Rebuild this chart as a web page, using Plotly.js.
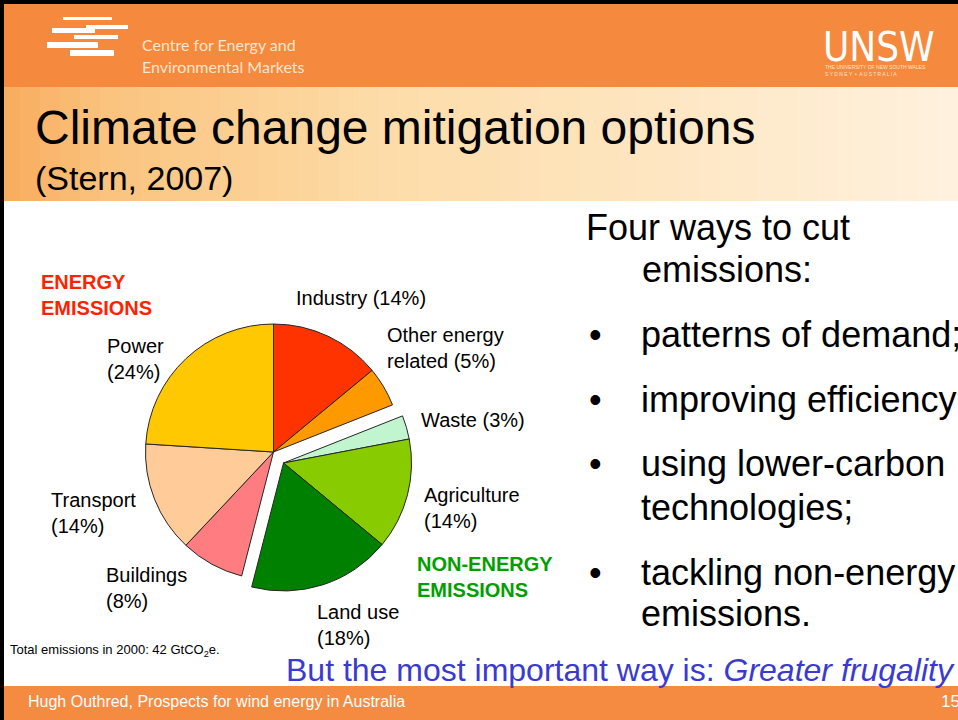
<!DOCTYPE html>
<html><head><meta charset="utf-8">
<script src="https://cdn.plot.ly/plotly-3.0.1.min.js"></script>
<style>html,body{margin:0;padding:0;background:#fff;}#chart{width:958px;height:720px;}</style>
</head><body><div id="chart"></div>
<script>
// ---- data ----
const sectors = ['Industry','Other energy related','Waste','Agriculture','Land use','Buildings','Transport','Power'];
const shares = [14, 5, 3, 14, 18, 8, 14, 24];
const group = ['energy','energy','non-energy','non-energy','non-energy','energy','energy','energy'];
const sliceColors = ['#FF3300','#FF9900','#C0F5D0','#88CC00','#008000','#FF7C80','#FFCC99','#FFC800'];
const labelNames = ['Industry','Other energy<br>related','Waste','Agriculture','Land use','Buildings','Transport','Power'];
const labelBreak = [' ', ' ', ' ', '<br>', '<br>', '<br>', '<br>', '<br>'];
const groupTitles = ['ENERGY<br>EMISSIONS', 'NON-ENERGY<br>EMISSIONS'];
const introLines = ['Four ways to cut', 'emissions:'];
const bulletItems = [['patterns of demand;'], ['improving efficiency;'], ['using lower-carbon','technologies;'], ['tackling non-energy','emissions.']];
const slideTitle = 'Climate change mitigation options';
const slideSubtitle = '(Stern, 2007)';
const totalNote = 'Total emissions in 2000: 42 GtCO<sub>2</sub>e.';
const punchline = 'But the most important way is: <i>Greater frugality</i>';
const footerText = 'Hugh Outhred, Prospects for wind energy in Australia';
const pageNumber = '15';

// ---- helpers ----
const W = 958, H = 720;
const X = p => p / W;
const Y = p => 1 - p / H;
const ann = [];
function txt(text, x, y, size, color, opts) {
  ann.push(Object.assign({text: text, x: X(x), y: Y(y), xref: 'paper', yref: 'paper',
    xanchor: 'left', yanchor: 'middle', align: 'left', showarrow: false,
    font: {family: 'Liberation Sans, Arial, sans-serif', size: size, color: color}}, opts || {}));
}
const shapes = [];
function rect(x0, y0, x1, y1, color) {
  shapes.push({type: 'rect', xref: 'paper', yref: 'paper', x0: X(x0), x1: X(x1), y0: Y(y1), y1: Y(y0),
    fillcolor: color, line: {width: 0}, layer: 'below'});
}

// background bands
rect(0, 0, W, 87, '#F5893D');
const stops = [[0, [248,172,92]], [0.12, [250,196,128]], [0.4, [253,220,168]], [1, [255,241,222]]];
function grad(t) {
  for (let i = 1; i < stops.length; i++) {
    if (t <= stops[i][0]) {
      const a = stops[i-1], b = stops[i], f = (t - a[0]) / (b[0] - a[0]);
      return 'rgb(' + a[1].map((v, k) => Math.round(v + (b[1][k] - v) * f)).join(',') + ')';
    }
  }
  return 'rgb(255,241,222)';
}
const nStrip = 48;
for (let i = 0; i < nStrip; i++) {
  rect(i * W / nStrip, 87, (i + 1) * W / nStrip + 0.5, 201, grad((i + 0.5) / nStrip));
}
rect(0, 686, W, H, '#F58B41');
rect(0, 0, W, 4, '#000000');
rect(0, 0, 4, H, '#000000');

// logo stripes
[[63,17,112,20],[86,25,128,29],[52,28,95,33],[74,35,118,39],[47,42,98,48],[70,50,114,56]].forEach(b => rect(b[0], b[1], b[2], b[3], '#FFFFFF'));
txt('Centre for Energy and', 140, 44, 16, '#FDE6CF', {font: {family: 'Lato, Open Sans, sans-serif', size: 16, color: '#FDE6CF'}});
txt('Environmental Markets', 140, 66, 16, '#FDE6CF', {font: {family: 'Lato, Open Sans, sans-serif', size: 16, color: '#FDE6CF'}});
txt('UNSW', 821, 47, 40, '#FFFFFF', {font: {family: 'DejaVu Sans Condensed, sans-serif', size: 40, color: '#FFFFFF'}});
txt('THE UNIVERSITY OF NEW SOUTH WALES<br>S Y D N E Y  •  A U S T R A L I A', 823, 71, 5, '#FDE6CF');

// titles
txt(slideTitle, 33, 127, 48, '#000000');
txt(slideSubtitle, 33, 178, 34, '#000000');

// right text
txt(introLines[0], 584, 227, 36, '#000000');
txt(introLines[1], 640, 269, 36, '#000000');
const bulletY = [[334], [399], [463, 507], [572, 613]];
bulletItems.forEach((lines, i) => {
  txt('•', 587, bulletY[i][0], 36, '#000000');
  lines.forEach((l, j) => txt(l, 639, bulletY[i][j], 36, '#000000'));
});

// pie labels
const labelPos = [[294,298],[385,348.5],[419,420],[422,508],[315,624.5],[104,588],[49,513],[105,358.5]];
sectors.forEach((s, i) => {
  txt(labelNames[i] + labelBreak[i] + '(' + shares[i] + '%)', labelPos[i][0], labelPos[i][1], 20, '#000000');
});
txt(groupTitles[0], 39, 294.5, 20, '#FF2200', {font: {family: 'Liberation Sans, Arial, sans-serif', size: 20, color: '#FF2200', weight: 'bold'}});
txt(groupTitles[1], 415, 576.5, 20, '#00A000', {font: {family: 'Liberation Sans, Arial, sans-serif', size: 20, color: '#00A000', weight: 'bold'}});

txt(totalNote, 8, 650, 13, '#000000');
txt(punchline, 284, 670, 32, '#3A3AD2');
txt(footerText, 26, 701, 16, '#FFFFFF');
txt(pageNumber, 939, 701, 17, '#FFFFFF');

// pies: the energy part and the pulled-out non-energy part
function pieTrace(g, cx, cy, r) {
  return {
    type: 'pie', values: shares, labels: sectors, sort: false, direction: 'clockwise', rotation: 0,
    marker: {
      colors: sliceColors.map((c, i) => group[i] === g ? c : 'rgba(0,0,0,0)'),
      line: {color: group.map(v => v === g ? '#262626' : 'rgba(0,0,0,0)'), width: group.map(v => v === g ? 1 : 0)}
    },
    textinfo: 'none', hoverinfo: 'label+percent', showlegend: false,
    domain: {x: [(cx - r) / W, (cx + r) / W], y: [1 - (cy + r) / H, 1 - (cy - r) / H]}
  };
}
const data = [pieTrace('energy', 273.5, 452, 128), pieTrace('non-energy', 283.5, 463, 128)];

const layout = {
  width: W, height: H, margin: {l: 0, r: 0, t: 0, b: 0, pad: 0},
  paper_bgcolor: '#FFFFFF', plot_bgcolor: '#FFFFFF', showlegend: false,
  shapes: shapes, annotations: ann
};
Plotly.newPlot('chart', data, layout, {displayModeBar: false, staticPlot: true});
</script></body></html>
